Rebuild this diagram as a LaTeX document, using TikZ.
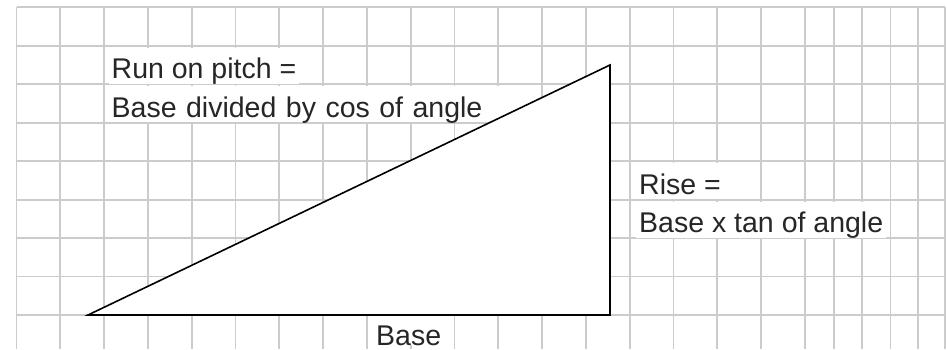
\documentclass[tikz,border=0pt]{standalone}
\usepackage{fontspec}
\setmainfont{Liberation Sans}
\definecolor{gridgray}{RGB}{204,204,204}
\tikzset{
  cell/.style={fill=white, inner xsep=3pt, inner ysep=0pt, text height=31pt,
    text depth=5pt, anchor=base west, align=left,
    font=\fontsize{28.5}{34}\selectfont, text=black!85},
  gridline/.style={gridgray, line width=1.8pt}
}
\begin{document}
\begin{tikzpicture}[x=1pt, y=-1pt]
  \clip (0,0) rectangle (947,349);
  \fill[white] (0,0) rectangle (947,349);
  % grid
  \foreach \gx in {16.5,60.3,...,806,834.3,862.3,890.5,918.3,945}
    \draw[gridline] (\gx,7.3) -- (\gx,349);
  \foreach \gy in {7.3,45.76,...,316}
    \draw[gridline] (16.5,\gy) -- (945,\gy);
  % labels
  \node[cell] (pitchtop) at (108.5,78.5) {Run on pitch =};
  \node[cell, text width=389pt] (pitchbot) at (108.5,117.2) {Base divided by cos of angle};
  \node[cell] (risetop) at (636,194) {Rise =};
  \node[cell] (risebot) at (636,232.5) {Base x tan of angle};
  \node[cell, text height=29pt, text depth=0pt] (baselbl) at (373,345.2) {Base};
  % triangle
  \coordinate (bl) at (88,315);
  \coordinate (br) at (610,315);
  \coordinate (tr) at (610,65);
  \filldraw[fill=white, draw=black, line width=1.6pt] (bl) -- (br) -- (tr) -- cycle;
\end{tikzpicture}
\end{document}
